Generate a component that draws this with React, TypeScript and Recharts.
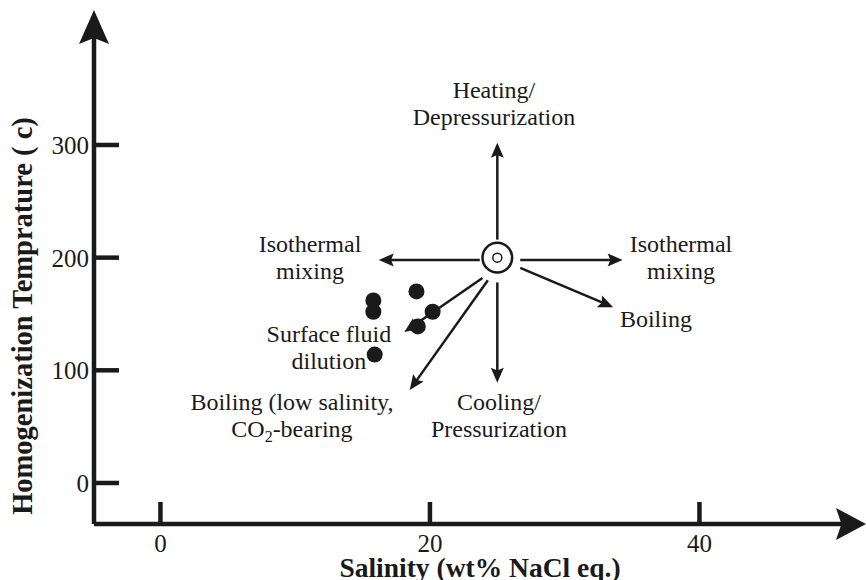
import { ScatterChart, Scatter, XAxis, YAxis, ReferenceLine } from 'recharts';

// axis ticks
const xTicks = [0, 20, 40];
const yTicks = [0, 100, 200, 300];
const xDomain = [-4.93, 52.36];
const yDomain = [-36.4, 419.8];

// fluid inclusion measurements
const salinity = [15.8, 15.8, 15.9, 19.0, 20.2, 19.1];
const homogTemp = [162, 152, 114, 170, 152, 139];

// initial fluid (double circle)
const originSalinity = [25];
const originTemp = [200];

// process vectors
const arrowX1 = [25, 25, 23.7, 26.7, 26.7, 23.9, 24.3];
const arrowY1 = [216, 178, 198, 198, 191, 182, 180];
const arrowX2 = [25, 25, 16.2, 34.3, 33.6, 18.1, 18.5];
const arrowY2 = [302, 89, 198, 198, 156, 134, 82.5];

// annotations
const labelLines = [
  ['Heating/', 'Depressurization'],
  ['Isothermal', 'mixing'],
  ['Isothermal', 'mixing'],
  ['Boiling'],
  ['Surface fluid', 'dilution'],
  ['Boiling (low salinity,', 'CO2-bearing'],
  ['Cooling/', 'Pressurization'],
];
const labelX = [24.75, 11.1, 38.63, 36.77, 12.5, 9.76, 25.12];
const labelY = [341.7, 205, 205, 138.5, 125.1, 64.8, 64.8];

const FONT = "'Liberation Serif', 'Times New Roman', serif";
const INK = '#1a1a1a';

const points = salinity.map((s, i) => ({ x: s, y: homogTemp[i] }));
const origin = originSalinity.map((s, i) => ({ x: s, y: originTemp[i] }));
const labels = labelLines.map((lines, i) => ({ x: labelX[i], y: labelY[i], lines }));

const arrowShape = (head: number, half: number, width: number) => (p: any) => {
  const { x1, y1, x2, y2 } = p;
  const dx = x2 - x1;
  const dy = y2 - y1;
  const len = Math.hypot(dx, dy) || 1;
  const ux = dx / len;
  const uy = dy / len;
  const nx = -uy;
  const ny = ux;
  const bx = x2 - ux * head;
  const by = y2 - uy * head;
  const notch = head * 0.18;
  const pts = [
    [x2, y2],
    [bx + nx * half, by + ny * half],
    [bx + ux * notch, by + uy * notch],
    [bx - nx * half, by - ny * half],
  ]
    .map((q) => q.join(','))
    .join(' ');
  return (
    <g>
      <line x1={x1} y1={y1} x2={bx + ux * notch * 1.5} y2={by + uy * notch * 1.5} stroke={INK} strokeWidth={width} />
      <polygon points={pts} fill={INK} />
    </g>
  );
};

const renderLine = (line: string) => {
  if (line.startsWith('CO2')) {
    return (
      <>
        CO
        <tspan fontSize={16} dy={5}>2</tspan>
        <tspan dy={-5}>{line.slice(3)}</tspan>
      </>
    );
  }
  return line;
};

const XTick = (props: any) => {
  const { x, y, payload } = props;
  return (
    <g>
      <line x1={x} y1={y} x2={x} y2={y - 22} stroke={INK} strokeWidth={4.5} />
      <text x={x} y={y + 28} textAnchor="middle" fontSize={25} fontFamily={FONT} fill={INK}>
        {payload.value}
      </text>
    </g>
  );
};

const YTick = (props: any) => {
  const { x, y, payload } = props;
  return (
    <g>
      <line x1={x} y1={y} x2={x + 25} y2={y} stroke={INK} strokeWidth={4.5} />
      <text x={x - 5} y={y + 9} textAnchor="end" fontSize={25} fontFamily={FONT} fill={INK}>
        {payload.value}
      </text>
    </g>
  );
};

export default function App() {
  const smallArrow = arrowShape(15, 6.5, 2.5);
  return (
    <div style={{ position: 'absolute', left: 0, top: 0, background: '#fff' }}>
      <ScatterChart width={866} height={580} margin={{ top: 10, right: 0, bottom: 0, left: 0 }}>
        <XAxis
          type="number"
          dataKey="x"
          domain={xDomain}
          ticks={xTicks}
          interval={0}
          allowDataOverflow
          axisLine={false}
          tickLine={false}
          tickSize={0}
          tickMargin={0}
          height={56}
          tick={<XTick />}
          label={{
            value: 'Salinity (wt% NaCl eq.)',
            position: 'insideBottom',
            offset: 3,
            style: { fontSize: 27.5, fontWeight: 700, fontFamily: FONT, fill: INK },
          }}
        />
        <YAxis
          type="number"
          dataKey="y"
          domain={yDomain}
          ticks={yTicks}
          interval={0}
          allowDataOverflow
          axisLine={false}
          tickLine={false}
          tickSize={0}
          tickMargin={0}
          width={94}
          tick={<YTick />}
          label={{
            content: () => (
              <text
                x={32}
                y={316}
                transform="rotate(-90, 32, 316)"
                textAnchor="middle"
                fontSize={28.5}
                fontWeight={700}
                fontFamily={FONT}
                fill={INK}
              >
                Homogenization Temprature ( c)
              </text>
            ),
          }}
        />

        {/* axes with arrow heads */}
        <ReferenceLine
          segment={[{ x: xDomain[0], y: yDomain[0] }, { x: xDomain[1], y: yDomain[0] }]}
          ifOverflow="visible"
          shape={arrowShape(30, 16, 4.5)}
        />
        <ReferenceLine
          segment={[{ x: xDomain[0], y: yDomain[0] }, { x: xDomain[0], y: yDomain[1] }]}
          ifOverflow="visible"
          shape={arrowShape(34, 15, 4.5)}
        />

        {arrowX1.map((x1, i) => (
          <ReferenceLine
            key={`arrow-${i}`}
            segment={[{ x: x1, y: arrowY1[i] }, { x: arrowX2[i], y: arrowY2[i] }]}
            ifOverflow="visible"
            shape={smallArrow}
          />
        ))}

        <Scatter
          data={points}
          isAnimationActive={false}
          shape={(p: any) => <circle cx={p.cx} cy={p.cy} r={8} fill={INK} />}
        />
        <Scatter
          data={origin}
          isAnimationActive={false}
          shape={(p: any) => (
            <g>
              <circle cx={p.cx} cy={p.cy} r={14.8} fill="#fff" stroke={INK} strokeWidth={2.5} />
              <circle cx={p.cx} cy={p.cy} r={4.5} fill="#fff" stroke={INK} strokeWidth={1.5} />
            </g>
          )}
        />
        <Scatter
          data={labels}
          isAnimationActive={false}
          shape={(p: any) => (
            <text textAnchor="middle" fontSize={24} fontFamily={FONT} fill={INK}>
              {p.payload.lines.map((line: string, j: number) => (
                <tspan key={j} x={p.cx} y={p.cy + j * 27}>
                  {renderLine(line)}
                </tspan>
              ))}
            </text>
          )}
        />
      </ScatterChart>
    </div>
  );
}
